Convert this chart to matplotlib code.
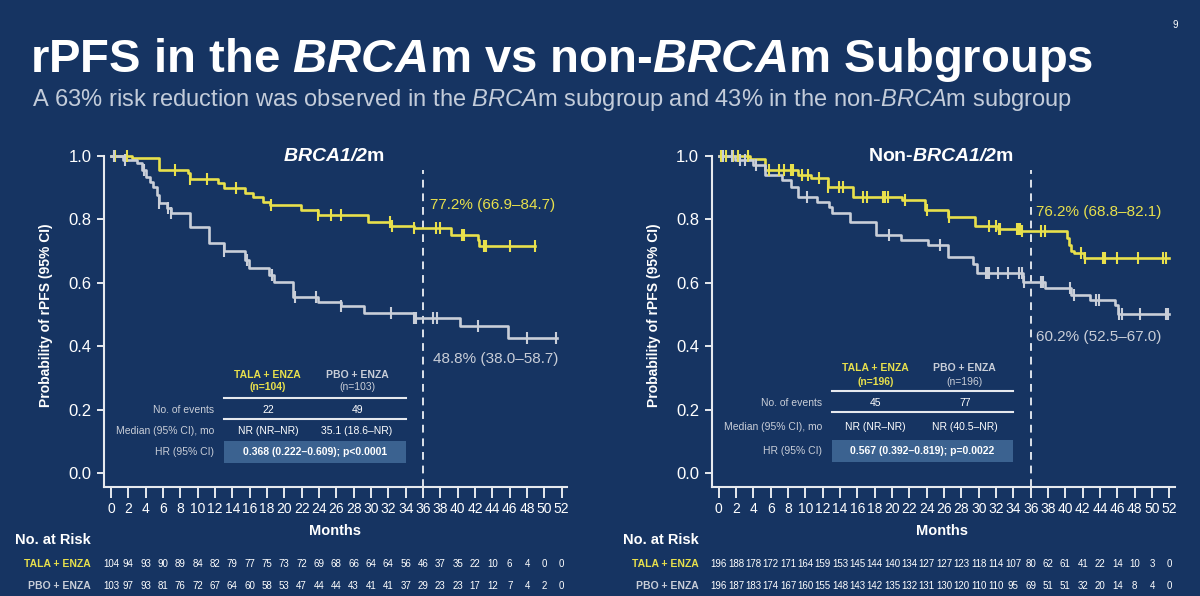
import numpy as np
import matplotlib
matplotlib.use('Agg')
from matplotlib import pyplot as plt
from matplotlib.patches import Rectangle
from matplotlib.transforms import blended_transform_factory

BG = '#163462'
YELLOW = '#e8e04c'
GREY = '#c9ced8'
WHITE = '#ffffff'
SUBGREY = '#c3ccda'
BOXBLUE = '#3b6290'

plt.rcParams['font.family'] = ['Liberation Sans', 'DejaVu Sans']
plt.rcParams['mathtext.fontset'] = 'custom'
plt.rcParams['mathtext.it'] = 'Liberation Sans:italic'
plt.rcParams['mathtext.bf'] = 'Liberation Sans:italic:bold'
plt.rcParams['mathtext.rm'] = 'Liberation Sans'

month_ticks = list(range(0, 53, 2))

# ---- BRCA1/2m ----
brca_tala_t = [0, 2.4, 5.5, 8.85, 9.1, 12.4, 13.05, 15.5, 16.4, 17.5, 18.4, 21.9, 23.9,
               29.6, 32.3, 35.0, 39.2, 42.3, 42.5, 48.9]
brca_tala_s = [1.0, 0.993, 0.956, 0.945, 0.926, 0.914, 0.898, 0.882, 0.870, 0.856, 0.845,
               0.830, 0.814, 0.793, 0.779, 0.772, 0.751, 0.735, 0.716, 0.716]
brca_tala_cens = [0.5, 1.8, 7.4, 9.1, 11.1, 14.4, 18.5, 23.9, 25.4, 26.5, 32.2, 32.4, 35.0,
                  37.5, 38.0, 40.5, 40.7, 43.0, 43.3, 46.0, 48.9]

brca_pbo_t = [0, 1.4, 3.0, 3.6, 4.1, 4.5, 4.9, 5.3, 5.5, 6.5, 6.9, 9.1, 11.3, 13.0, 15.5,
              15.9, 18.2, 18.8, 21.0, 23.9, 26.5, 29.2, 35.0, 40.3, 45.8, 51.5]
brca_pbo_s = [1.0, 0.987, 0.977, 0.956, 0.935, 0.919, 0.903, 0.877, 0.851, 0.835, 0.819,
              0.777, 0.725, 0.700, 0.672, 0.647, 0.625, 0.603, 0.556, 0.540, 0.528, 0.504,
              0.488, 0.465, 0.425, 0.425]
brca_pbo_cens = [0.3, 1.6, 3.8, 5.5, 6.6, 6.9, 13.0, 15.7, 18.6, 21.2, 23.6, 26.5, 32.3,
                 35.0, 35.2, 37.2, 37.6, 42.3, 48.0, 51.4]

brca_risk_tala = [104, 94, 93, 90, 89, 84, 82, 79, 77, 75, 73, 72, 69, 68, 66, 64, 64, 56,
                  46, 37, 35, 22, 10, 6, 4, 0, 0]
brca_risk_pbo = [103, 97, 93, 81, 76, 72, 67, 64, 60, 58, 53, 47, 44, 44, 43, 41, 41, 37,
                 29, 23, 23, 17, 12, 7, 4, 2, 0]

# ---- Non-BRCA1/2m ----
non_tala_t = [0, 3.6, 5.3, 9.1, 10.7, 12.6, 15.5, 21.2, 23.8, 26.5, 29.6, 32.2, 34.9,
              40.2, 40.4, 40.6, 41.0, 42.2, 51.9]
non_tala_s = [1.0, 0.99, 0.956, 0.940, 0.930, 0.903, 0.872, 0.861, 0.830, 0.809, 0.779,
              0.769, 0.762, 0.740, 0.720, 0.700, 0.693, 0.677, 0.677]
non_tala_cens = [0.3, 0.8, 1.6, 2.2, 3.4, 5.8, 7.0, 7.5, 8.3, 8.6, 9.6, 10.3, 11.6, 12.6,
                 13.9, 14.3, 16.7, 17.1, 19.0, 19.2, 19.5, 21.5, 24.0, 26.6, 31.2, 32.0,
                 32.3, 32.5, 34.4, 34.6, 34.8, 35.0, 37.2, 37.6, 41.8, 42.3, 44.3, 44.6,
                 46.0, 48.4, 51.3, 51.6]

non_pbo_t = [0, 1.9, 4.0, 5.3, 7.3, 8.3, 9.2, 11.4, 12.7, 13.1, 15.2, 18.1, 21.0, 24.1,
             26.5, 29.4, 29.8, 35.1, 37.7, 40.6, 42.8, 45.7, 46.1, 51.9]
non_pbo_s = [1.0, 0.987, 0.972, 0.940, 0.924, 0.903, 0.872, 0.856, 0.840, 0.819, 0.793,
             0.751, 0.735, 0.719, 0.682, 0.661, 0.630, 0.602, 0.583, 0.562, 0.546, 0.530,
             0.502, 0.502]
non_pbo_cens = [0.5, 1.5, 2.5, 3.0, 4.3, 10.2, 19.6, 25.5, 30.8, 31.0, 31.2, 32.2, 33.4,
                34.6, 35.0, 35.2, 37.2, 37.4, 40.5, 41.0, 43.5, 43.9, 46.2, 46.5, 48.6,
                51.6, 51.8]

non_risk_tala = [196, 188, 178, 172, 171, 164, 159, 153, 145, 144, 140, 134, 127, 127, 123,
                 118, 114, 107, 80, 62, 61, 41, 22, 14, 10, 3, 0]
non_risk_pbo = [196, 187, 183, 174, 167, 160, 155, 148, 143, 142, 135, 132, 131, 130, 120,
                110, 110, 95, 69, 51, 51, 32, 20, 14, 8, 4, 0]


def surv_at(t, s, times):
    idx = np.searchsorted(t, times, side='right') - 1
    return np.asarray(s)[idx]


def draw_km(ax, t, s, cens, color):
    ax.step(t, s, where='post', color=color, lw=1.9, zorder=3)
    ax.plot(cens, surv_at(t, s, cens), ls='none', marker='|', ms=9, mew=1.5,
            color=color, zorder=4)


def draw_panel(fig, rect, title, tala, pbo, notes, table, risk, hdr_y):
    ax = fig.add_axes(rect)
    ax.set_facecolor(BG)
    ax.set_xlim(-0.8, 52.6)
    ax.set_ylim(-0.044, 1.02)

    draw_km(ax, *tala, YELLOW)
    draw_km(ax, *pbo, GREY)

    # 36-month landmark
    ax.plot([36, 36], [-0.044, 0.955], color='#dde2ea', lw=1.4, ls=(0, (4, 3)), zorder=2)

    for spine in ['top', 'right']:
        ax.spines[spine].set_visible(False)
    for spine in ['left', 'bottom']:
        ax.spines[spine].set_color('#e6e9ee')
        ax.spines[spine].set_linewidth(1.5)
    ax.spines['left'].set_bounds(-0.044, 1.0)

    ax.set_xticks(month_ticks)
    ax.set_yticks([0, 0.2, 0.4, 0.6, 0.8, 1.0])
    ax.set_yticklabels(['0.0', '0.2', '0.4', '0.6', '0.8', '1.0'])
    ax.tick_params(axis='x', length=8, width=1.4, colors='#e6e9ee', labelcolor=WHITE,
                   labelsize=10, pad=3)
    ax.tick_params(axis='y', length=5, width=1.4, colors='#e6e9ee', labelcolor=WHITE,
                   labelsize=12, pad=4)

    ax.text(-0.125, 0.51, 'Probability of rPFS (95% CI)', transform=ax.transAxes,
            rotation=90, ha='center', va='center', fontsize=10, fontweight='bold', color=WHITE)
    ax.text(25.7, 0.997, title, ha='center', va='center', fontsize=14, fontweight='bold',
            color=WHITE)

    # landmark estimates
    for x, y, txt, col in notes:
        ax.text(x, y, txt, ha='left', va='center', fontsize=11, color=col)

    # summary table
    (n_tala, n_pbo, ev_tala, ev_pbo, med_tala, med_pbo, hr) = table
    y_h1, y_h2, y_l1, y_ev, y_l2, y_med, y_hr = hdr_y
    x0, x1, c1, c2, lab = 13.05, 34.0, 18.1, 28.4, 11.9
    fs = 7.5
    ax.text(c1, y_h1, 'TALA + ENZA', ha='center', va='center', fontsize=fs,
            fontweight='bold', color=YELLOW)
    ax.text(c1, y_h2, '(n=%d)' % n_tala, ha='center', va='center', fontsize=fs,
            fontweight='bold', color=YELLOW)
    ax.text(c2, y_h1, 'PBO + ENZA', ha='center', va='center', fontsize=fs,
            fontweight='bold', color=GREY)
    ax.text(c2, y_h2, '(n=%d)' % n_pbo, ha='center', va='center', fontsize=fs, color=GREY)
    ax.plot([x0, x1], [y_l1, y_l1], color='#e6e9ee', lw=1.5)
    ax.plot([x0, x1], [y_l2, y_l2], color='#e6e9ee', lw=1.5)
    ax.text(lab, y_ev, 'No. of events', ha='right', va='center', fontsize=fs, color=GREY)
    ax.text(c1, y_ev, str(ev_tala), ha='center', va='center', fontsize=fs, color=WHITE)
    ax.text(c2, y_ev, str(ev_pbo), ha='center', va='center', fontsize=fs, color=WHITE)
    ax.text(lab, y_med, 'Median (95% CI), mo', ha='right', va='center', fontsize=fs,
            color=GREY)
    ax.text(c1, y_med, med_tala, ha='center', va='center', fontsize=fs, color=WHITE)
    ax.text(c2, y_med, med_pbo, ha='center', va='center', fontsize=fs, color=WHITE)
    ax.add_patch(Rectangle((x0, y_hr - 0.035), x1 - x0, 0.07, facecolor=BOXBLUE,
                           edgecolor='none', zorder=1))
    ax.text(lab, y_hr, 'HR (95% CI)', ha='right', va='center', fontsize=fs, color=GREY)
    ax.text((x0 + x1) / 2, y_hr, hr, ha='center', va='center', fontsize=fs,
            fontweight='bold', color=WHITE, zorder=2)

    # number at risk
    tr = blended_transform_factory(ax.transData, fig.transFigure)
    ax.text(25.8, 1 - 531 / 596, 'Months', transform=tr, ha='center', va='center',
            fontsize=10.5, fontweight='bold', color=WHITE)
    ax.text(-2.3, 1 - 540 / 596, 'No. at Risk', transform=tr, ha='right', va='center',
            fontsize=10.5, fontweight='bold', color=WHITE)
    ax.text(-2.3, 1 - 564 / 596, 'TALA + ENZA', transform=tr, ha='right', va='center',
            fontsize=7.5, fontweight='bold', color=YELLOW)
    ax.text(-2.3, 1 - 586 / 596, 'PBO + ENZA', transform=tr, ha='right', va='center',
            fontsize=7.5, fontweight='bold', color=GREY)
    for m, a, b in zip(month_ticks, risk[0], risk[1]):
        ax.text(m, 1 - 564 / 596, str(a), transform=tr, ha='center', va='center',
                fontsize=7, color=WHITE)
        ax.text(m, 1 - 586 / 596, str(b), transform=tr, ha='center', va='center',
                fontsize=7, color=WHITE)
    return ax


fig = plt.figure(figsize=(12, 5.96), dpi=100, facecolor=BG)

fig.text(30 / 1200, 1 - 60 / 596, r'rPFS in the $\mathbf{BRCA}$m vs non-$\mathbf{BRCA}$m Subgroups',
         fontsize=34, fontweight='bold', color=WHITE, va='center', ha='left')
fig.text(32 / 1200, 1 - 100 / 596,
         r'A 63% risk reduction was observed in the $\mathit{BRCA}$m subgroup and 43% in the non-$\mathit{BRCA}$m subgroup',
         fontsize=17, color=SUBGREY, va='center', ha='left')
fig.text(1175 / 1200, 1 - 25 / 596, '9', fontsize=7, color=WHITE, ha='center', va='center')

h = (487 - 149.7) / 596
draw_panel(fig, [104 / 1200, 1 - 487 / 596, 462.9 / 1200, h], r'$\mathbf{BRCA1/2}$m',
           (brca_tala_t, brca_tala_s, brca_tala_cens),
           (brca_pbo_t, brca_pbo_s, brca_pbo_cens),
           [(36.8, 0.845, '77.2% (66.9\u201384.7)', YELLOW),
            (37.2, 0.359, '48.8% (38.0\u201358.7)', GREY)],
           (104, 103, 22, 49, 'NR (NR\u2013NR)', '35.1 (18.6\u2013NR)',
            '0.368 (0.222\u20130.609); p<0.0001'),
           (brca_risk_tala, brca_risk_pbo),
           (0.309, 0.270, 0.236, 0.200, 0.169, 0.133, 0.066))

draw_panel(fig, [711.7 / 1200, 1 - 487 / 596, 462.9 / 1200, h], r'Non-$\mathbf{BRCA1/2}$m',
           (non_tala_t, non_tala_s, non_tala_cens),
           (non_pbo_t, non_pbo_s, non_pbo_cens),
           [(36.6, 0.824, '76.2% (68.8\u201382.1)', YELLOW),
            (36.6, 0.43, '60.2% (52.5\u201367.0)', GREY)],
           (196, 196, 45, 77, 'NR (NR\u2013NR)', 'NR (40.5\u2013NR)',
            '0.567 (0.392\u20130.819); p=0.0022'),
           (non_risk_tala, non_risk_pbo),
           (0.331, 0.288, 0.260, 0.222, 0.193, 0.146, 0.069))

fig.savefig('out.png', dpi=100, facecolor=BG)
